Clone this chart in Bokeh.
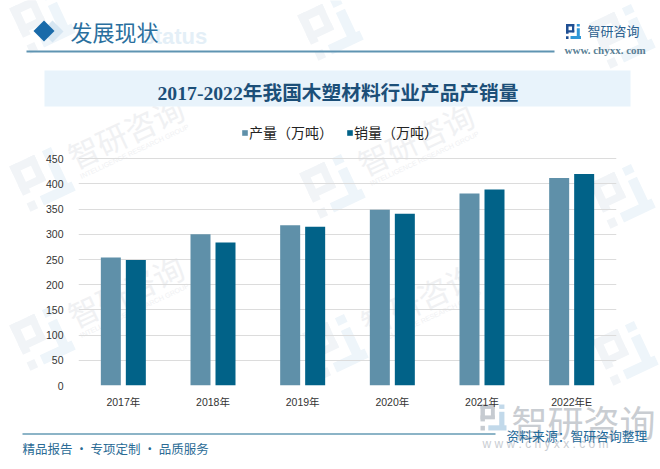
import math
from bokeh.embed import file_html
from bokeh.resources import INLINE
from bokeh.models import (ColumnDataSource, FactorRange, Range1d, Label, BoxAnnotation,
                          PolyAnnotation, Legend, LegendItem, Title, FixedTicker)
from bokeh.plotting import figure
from bokeh.transform import dodge

categories = ["2017年", "2018年", "2019年", "2020年", "2021年", "2022年E"]
production = [254, 300, 318, 349, 381, 412]
sales = [249, 284, 315, 341, 389, 420]
y_ticks = [0, 50, 100, 150, 200, 250, 300, 350, 400, 450]

TITLE = "2017-2022年我国木塑材料行业产品产销量"
SERIES = ["产量（万吨）", "销量（万吨）"]
COLORS = ["#5f90a9", "#016288"]
CJK = "'Noto Sans CJK SC'"

# ---- backdrop figure: its frame fills the page and its scale is in page pixels
bg = figure(width=660, height=469, output_backend="svg", toolbar_location=None,
            x_range=Range1d(0, 660), y_range=Range1d(469, 0),
            min_border=0, x_axis_location=None, y_axis_location=None,
            styles={"position": "absolute", "left": "0px", "top": "0px"})
bg.grid.visible = False
bg.outline_line_color = None


def txt(x, y, s, size, color, font=CJK, style="normal", align="left", angle=0):
    bg.add_layout(Label(x=x, y=y, text=s, text_font=font, text_font_size=f"{size}px",
                        text_color=color, text_font_style=style, text_align=align,
                        text_baseline="middle", angle=angle, angle_units="deg"))


def box(l, t, r, b, color):
    bg.add_layout(BoxAnnotation(left=l, right=r, top=t, bottom=b,
                                fill_color=color, fill_alpha=1, line_color=None))


def poly(pts, color):
    bg.add_layout(PolyAnnotation(xs=[a for a, _ in pts], ys=[b for _, b in pts],
                                 fill_color=color, fill_alpha=1, line_color=None))


LOGO_DARK = [[(0, 0), (.55, 0), (.55, .17), (0, .17)],
             [(0, 0), (.17, 0), (.17, .65), (0, .65)],
             [(.40, 0), (.55, 0), (.55, .55), (.40, .55)],
             [(0, .42), (.55, .42), (.55, .57), (0, .57)],
             [(0, .82), (.17, .82), (.17, 1), (0, 1)]]
LOGO_LIGHT = [[(.72, 0), (.92, 0), (.92, .17), (.72, .17)],
              [(.72, .28), (.92, .28), (.92, .85), (.72, .85)],
              [(.30, .80), (1, .80), (1, 1), (.30, 1)]]


def logo(cx, cy, size, angle, dark, light):
    c, s = math.cos(math.radians(angle)), math.sin(math.radians(angle))
    for shapes, col in ((LOGO_DARK, dark), (LOGO_LIGHT, light)):
        for shape in shapes:
            pts = []
            for u, v in shape:
                dx, dy = (u - .5) * size, (v - .5) * size
                pts.append((cx + dx * c + dy * s, cy - dx * s + dy * c))
            poly(pts, col)


# repeated faint watermark
for lx, ly in [(42, 20), (330, 27), (622, 35), (42, 178), (332, 185), (622, 195),
               (42, 337), (335, 345), (625, 352)]:
    logo(lx, ly, 50, 25, "#f1f4f7", "#eef5fa")
    if ly > 100 and lx < 600:
        txt(lx + 83, ly - 47, "智研咨询", 31, "#f0f1f3", angle=25, align="center")
        txt(lx + 92, ly - 27, "INTELLIGENCE RESEARCH GROUP", 7, "#f0f1f3",
            font="'Liberation Sans'", angle=25, align="center")

# header
poly([(52, 20), (63, 31), (52, 42), (41, 31)], "#d6e6f2")
poly([(43.5, 20), (54, 30.5), (43.5, 41), (33, 30.5)], "#196aa9")
txt(142, 36, "status", 22, "#e4eff7", font="'Liberation Sans'", style="bold")
txt(70, 30, "发展现状", 22, "#2a6f9e")
box(26, 50, 554, 52, "#5f94b2")
logo(573, 31, 15, 0, "#1f4f93", "#2f97d6")
txt(587, 30, "智研咨询", 13, "#2a5f8f")
txt(564, 49, "www. chyxx. com", 11, "#5a7f95", font="'Liberation Serif'", style="bold")

# title band
box(44, 70, 630, 106, "#e8f3fb")

# bottom watermark and footer
logo(493, 417, 26, 0, "#c6cbd1", "#c2d9ea")
txt(511, 420, "智研咨询", 36, "#c9cdd2")
txt(482, 443, "w w w . c h y x x . c o m", 12, "#c9cdd2", font="'Liberation Sans'")
box(22, 433, 495, 434, "#1b6a8f")
txt(22, 448, "精品报告 · 专项定制 · 品质服务", 12.5, "#2a6b95")
txt(506, 435, "资料来源：智研咨询整理", 12.8, "#1f6a9a")

# ---- chart figure, transparent, laid over the backdrop
# the y range runs on past the top tick so that the legend has room inside the frame
src = ColumnDataSource(dict(cat=categories, production=production, sales=sales))
p = figure(width=660, height=469, output_backend="svg", toolbar_location=None,
           x_range=FactorRange(*categories, factor_padding=0, range_padding=0),
           y_range=Range1d(0, 526),
           min_border_left=78, min_border_right=44, min_border_top=120, min_border_bottom=84,
           styles={"position": "absolute", "left": "0px", "top": "0px"})
p.outline_line_color = None
p.background_fill_alpha = 0
p.border_fill_alpha = 0

w = 20 / 89.67
off = 12.5 / 89.67
r1 = p.vbar(x=dodge("cat", -off, range=p.x_range), top="production", width=w, bottom=0, source=src,
            fill_color=COLORS[0], line_color=None)
r2 = p.vbar(x=dodge("cat", off, range=p.x_range), top="sales", width=w, bottom=0, source=src,
            fill_color=COLORS[1], line_color=None)

legend = Legend(items=[LegendItem(label=SERIES[0], renderers=[r1]),
                       LegendItem(label=SERIES[1], renderers=[r2])],
                orientation="horizontal", location=(163, 243), border_line_color=None,
                background_fill_alpha=0, padding=0, margin=0, glyph_width=7, glyph_height=7,
                label_standoff=1, spacing=13, label_text_font=CJK, label_text_font_size="14px",
                label_text_color="#222222", label_height=14)
p.add_layout(legend, "center")

title = Title(text=TITLE, align="left", offset=79, standoff=34,
              text_font="'Liberation Serif','Noto Sans CJK SC'", text_font_size="19.7px",
              text_font_style="bold", text_color="#1c4f78")
p.add_layout(title, "above")

p.xgrid.grid_line_color = None
p.ygrid.grid_line_color = "#dcdcdc"
p.ygrid.grid_line_width = 1
p.yaxis.ticker = FixedTicker(ticks=y_ticks)
for ax in (p.xaxis[0], p.yaxis[0]):
    ax.axis_line_color = None
    ax.major_tick_line_color = None
    ax.minor_tick_line_color = None
    ax.major_label_text_font = "'Liberation Sans','Noto Sans CJK SC'"
    ax.major_label_text_color = "#333333"
    ax.major_label_text_font_size = "10.5px"
p.xaxis[0].major_label_standoff = 4
p.yaxis[0].major_label_standoff = 9

open("out.html", "w").write(file_html([bg, p], INLINE))
